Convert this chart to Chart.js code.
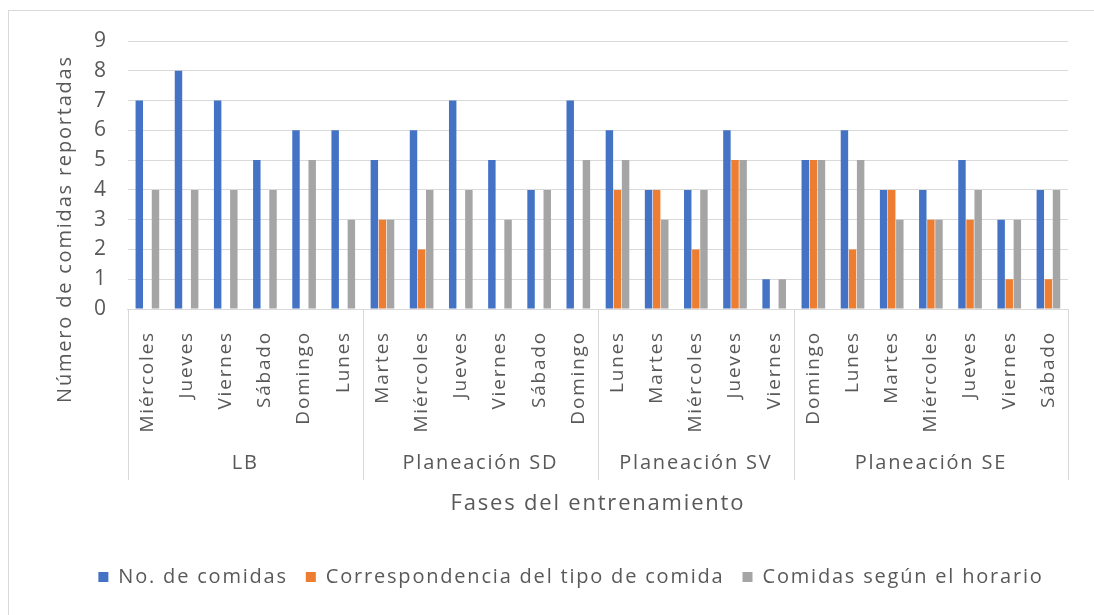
<!DOCTYPE html>
<html>
<head>
<meta charset="utf-8">
<script src="https://cdn.jsdelivr.net/npm/chart.js@4"></script>
<style>
  html, body { margin: 0; padding: 0; background: #fff; overflow: hidden; }
  #frame { position: absolute; left: 8px; top: 10px; width: 1110px; height: 640px; border: 1px solid #d9d9d9; }
  #wrap { position: absolute; left: 0; top: 0; width: 1094px; height: 615px; }
</style>
</head>
<body>
<div id="frame"></div>
<div id="wrap"><canvas id="chart" width="1094" height="615"></canvas></div>
<script>
// Days per training phase
const days = [
    'Miércoles', 'Jueves', 'Viernes', 'Sábado', 'Domingo', 'Lunes',
    'Martes', 'Miércoles', 'Jueves', 'Viernes', 'Sábado', 'Domingo',
    'Lunes', 'Martes', 'Miércoles', 'Jueves', 'Viernes',
    'Domingo', 'Lunes', 'Martes', 'Miércoles', 'Jueves', 'Viernes', 'Sábado'
];
const phases = ['LB', 'Planeación SD', 'Planeación SV', 'Planeación SE'];
const phaseSizes = [6, 6, 5, 7];

const noComidas = [7, 8, 7, 5, 6, 6, 5, 6, 7, 5, 4, 7, 6, 4, 4, 6, 1, 5, 6, 4, 4, 5, 3, 4];
const correspondencia = [0, 0, 0, 0, 0, 0, 3, 2, 0, 0, 0, 0, 4, 4, 2, 5, 0, 5, 2, 4, 3, 3, 1, 1];
const segunHorario = [4, 4, 4, 4, 5, 3, 3, 4, 4, 3, 4, 5, 5, 3, 4, 5, 1, 5, 5, 3, 3, 4, 3, 4];

const yTicks = [0, 1, 2, 3, 4, 5, 6, 7, 8, 9];
const yTitle = 'Número de comidas reportadas';

const FONT = "'Open Sans', sans-serif";
const TEXT = '#595959';
const GRID = '#d9d9d9';
const SPACING = '1.8px';

// the original text is wider than Open Sans, so spread the letters a bit
const letterSpacing = {
    id: 'letterSpacing',
    beforeUpdate(chart) { chart.ctx.letterSpacing = SPACING; },
    beforeLayout(chart) { chart.ctx.letterSpacing = SPACING; },
    beforeDraw(chart) { chart.ctx.letterSpacing = SPACING; }
};

// second-level axis: phase names and separators under the day labels,
// plus the y title (Excel centres it lower than the plot area)
const phaseAxis = {
    id: 'phaseAxis',
    afterDraw(chart) {
        const ctx = chart.ctx;
        const x = chart.scales.x;
        const area = chart.chartArea;
        const top = area.bottom;
        const bottom = top + 171;
        const half = (x.getPixelForValue(1) - x.getPixelForValue(0)) / 2;
        ctx.save();
        ctx.strokeStyle = GRID;
        ctx.lineWidth = 1;
        ctx.fillStyle = TEXT;
        ctx.font = '20px ' + FONT;
        ctx.textAlign = 'center';
        ctx.textBaseline = 'middle';
        let start = 0;
        phaseSizes.forEach((n, i) => {
            const left = x.getPixelForValue(start) - half;
            const right = x.getPixelForValue(start + n - 1) + half;
            [left, right].forEach(px => {
                ctx.beginPath();
                ctx.moveTo(Math.round(px) + 0.5, top);
                ctx.lineTo(Math.round(px) + 0.5, bottom);
                ctx.stroke();
            });
            ctx.fillText(phases[i], (left + right) / 2, top + 154);
            start += n;
        });

        ctx.translate(area.left - 63, area.bottom - 80);
        ctx.rotate(-Math.PI / 2);
        ctx.fillText(yTitle, 0, 0);
        ctx.restore();
    }
};

const ctx = document.getElementById('chart').getContext('2d');
new Chart(ctx, {
    type: 'bar',
    data: {
        labels: days,
        datasets: [
            { label: 'No. de comidas', data: noComidas, backgroundColor: '#4472C4' },
            { label: 'Correspondencia del tipo de comida', data: correspondencia, backgroundColor: '#ED7D31' },
            { label: 'Comidas según el horario', data: segunHorario, backgroundColor: '#A5A5A5' }
        ]
    },
    options: {
        responsive: false,
        animation: false,
        categoryPercentage: 0.62,
        barPercentage: 0.92,
        layout: { padding: { left: 74, right: 26, top: 41, bottom: 18 } },
        plugins: {
            legend: {
                position: 'bottom',
                labels: {
                    font: { family: FONT, size: 20 },
                    color: TEXT,
                    boxWidth: 10,
                    boxHeight: 10,
                    padding: 18
                }
            },
            tooltip: { enabled: false }
        },
        scales: {
            x: {
                grid: { display: false },
                border: { display: true, color: GRID },
                ticks: {
                    font: { family: FONT, size: 19 },
                    color: TEXT,
                    minRotation: 90,
                    maxRotation: 90,
                    autoSkip: false,
                    padding: 14
                },
                title: {
                    display: true,
                    text: 'Fases del entrenamiento',
                    font: { family: FONT, size: 22 },
                    color: TEXT,
                    padding: { top: 44, bottom: 32 }
                }
            },
            y: {
                min: 0,
                max: 9,
                afterBuildTicks(scale) {
                    scale.ticks = yTicks.map(v => ({ value: v }));
                },
                grid: { color: GRID, drawTicks: false },
                border: { display: false },
                ticks: {
                    font: { family: FONT, size: 21 },
                    color: TEXT,
                    autoSkip: false,
                    padding: 20
                }
            }
        }
    },
    plugins: [letterSpacing, phaseAxis]
});
</script>
</body>
</html>
